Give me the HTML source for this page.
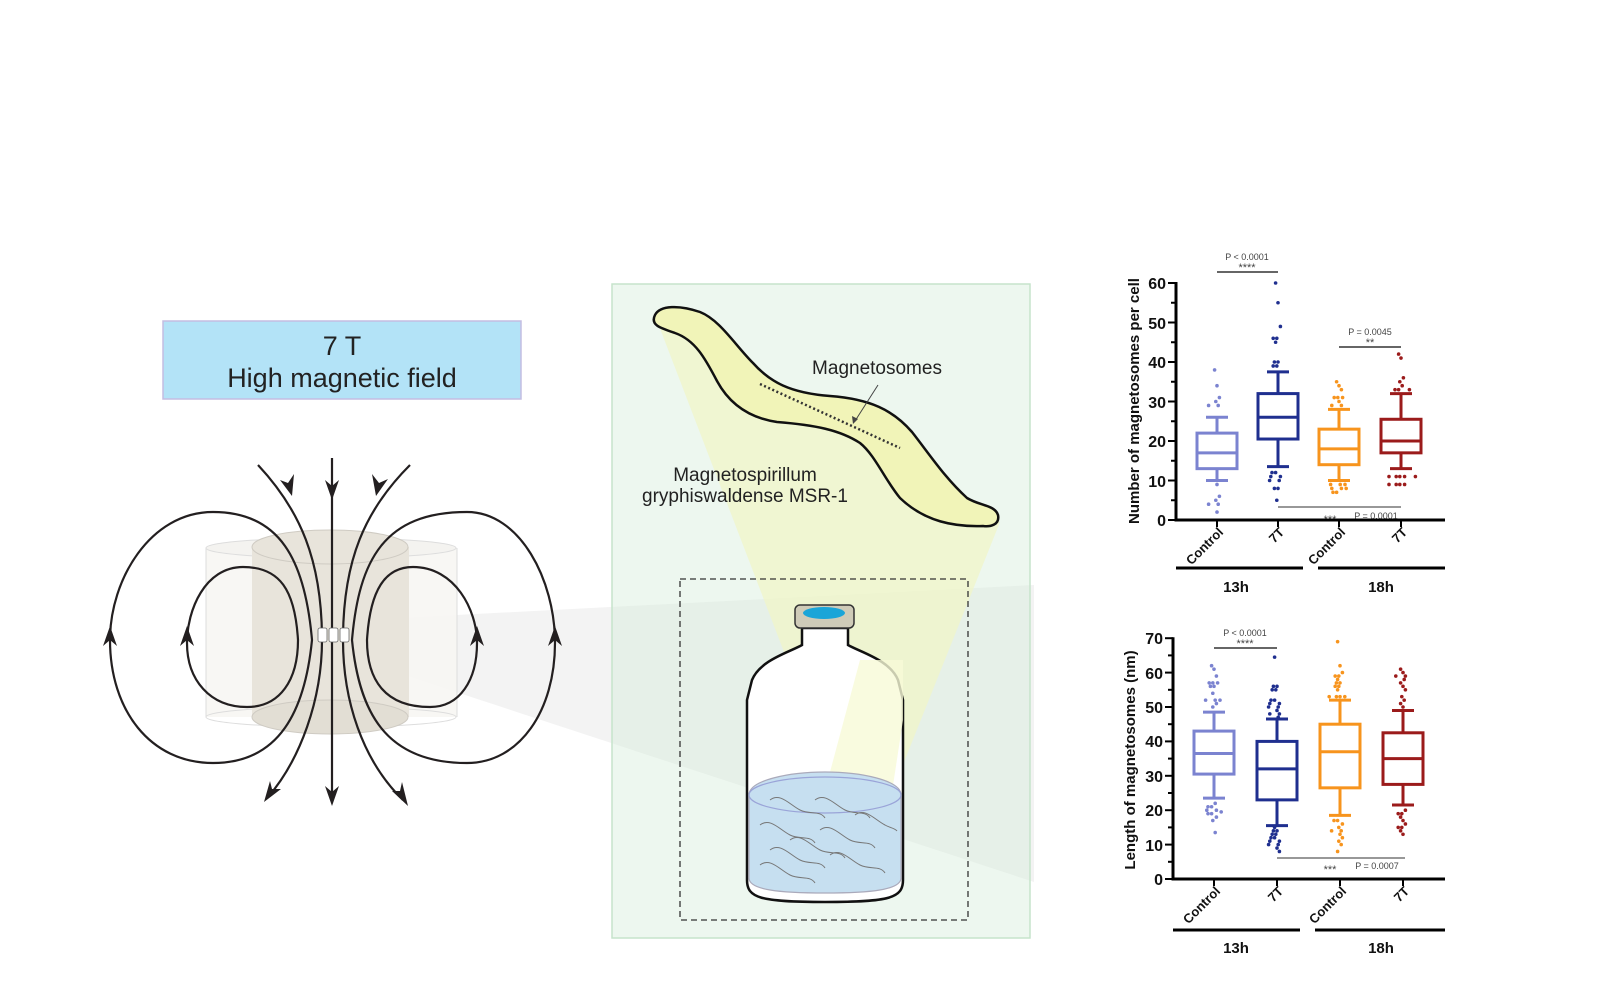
<!DOCTYPE html>
<html><head><meta charset="utf-8"><style>
html,body{margin:0;padding:0;background:#fff;}
svg{display:block;}
text{font-family:"Liberation Sans",Arial,sans-serif;}
</style></head><body>
<svg id="s" width="1600" height="1000" viewBox="0 0 1600 1000" xmlns="http://www.w3.org/2000/svg">
<rect width="1600" height="1000" fill="#fff"/>
<polygon points="360,620 1034,585 1034,882 380,667" fill="#f3f3f3"/>
<rect x="612" y="284" width="418" height="654" fill="rgba(214,238,220,0.45)" stroke="#c6e4cb" stroke-width="1.5"/>
<polygon points="656,318 1000,522 892,792 830,772" fill="rgba(240,246,200,0.75)"/>
<path d="M655,315 C660,305 680,305 700,312 C720,320 735,345 753,363 C770,382 790,393 830,396 C870,399 893,410 912,432 C930,455 945,478 967,498 C980,506 995,505 998,515 C1000,525 990,527 983,526 C955,527 925,522 900,498 C885,480 875,455 860,443 C840,430 815,425 777,422 C750,418 730,405 717,381 C705,358 695,340 675,333 C660,328 650,325 655,315 Z" fill="#f1f4b8" stroke="#111" stroke-width="2.5"/>
<path d="M760,384 L900,448" stroke="#333" stroke-width="2.5" stroke-dasharray="2,2.5"/>
<line x1="878" y1="385" x2="855" y2="421" stroke="#444" stroke-width="1"/>
<polygon points="853,424 852,416 858,419" fill="#444"/>
<text x="877" y="374" font-size="19" text-anchor="middle" fill="#222">Magnetosomes</text>
<text x="745" y="481" font-size="19" text-anchor="middle" fill="#222">Magnetospirillum</text>
<text x="745" y="502" font-size="19" text-anchor="middle" fill="#222">gryphiswaldense MSR-1</text>
<rect x="680" y="579" width="288" height="341" fill="none" stroke="#333" stroke-width="1.3" stroke-dasharray="6,4"/>
<path d="M802,628 L802,645 C790,652 760,660 752,680 L747,700 L747,880 C747,898 760,902 825,902 C890,902 903,898 903,880 L903,700 L898,680 C890,660 860,652 848,645 L848,628 Z" fill="#fff" stroke="#111" stroke-width="2.5"/>
<polygon points="830,772 892,792 903,720 903,660 860,660" fill="rgba(248,250,215,0.8)"/>
<path d="M749,795 C749,780 790,772 825,772 C860,772 901,780 901,795 L901,878 C901,890 870,893 825,893 C780,893 749,890 749,878 Z" fill="#c6dff0" stroke="#aab" stroke-width="1.2"/>
<ellipse cx="825" cy="795" rx="76" ry="18" fill="none" stroke="#9aa4d8" stroke-width="1.2"/>
<g fill="none" stroke="#777" stroke-width="1">
<path d="M770,800 c10,-8 20,5 30,10 c10,5 20,0 25,8"/><path d="M760,825 c10,-8 20,5 30,10 c10,5 20,0 25,8"/>
<path d="M815,800 c10,-8 20,5 30,10 c10,5 20,0 25,8"/><path d="M820,830 c10,-8 20,5 30,10 c10,5 20,0 25,8"/>
<path d="M770,850 c10,-8 20,5 30,10 c10,5 20,0 25,8"/><path d="M830,855 c10,-8 20,5 30,10 c10,5 20,0 25,8"/>
<path d="M790,840 c10,-8 20,5 30,10 c10,5 20,0 25,8"/><path d="M855,815 c10,-8 20,5 30,10 c5,3 10,3 12,6"/>
<path d="M760,865 c10,-8 20,5 30,10 c10,5 20,0 25,8"/>
</g>
<rect x="795" y="605" width="59" height="23" rx="5" fill="#cfcbb8" stroke="#333" stroke-width="1.5"/>
<ellipse cx="824" cy="613" rx="21" ry="6" fill="#1aa5d8"/>
<rect x="163" y="321" width="358" height="78" fill="#b3e3f7" stroke="#c4bde2" stroke-width="1.5"/>
<text x="342" y="355" font-size="27" text-anchor="middle" fill="#222">7 T</text>
<text x="342" y="387" font-size="27" text-anchor="middle" fill="#222">High magnetic field</text>
<rect x="206" y="548" width="251" height="169" fill="#f7f6f3" opacity="0.9"/>
<ellipse cx="331" cy="548" rx="125" ry="10" fill="#f4f3f0" stroke="#ddd"/>
<ellipse cx="331" cy="717" rx="125" ry="10" fill="none" stroke="#ddd"/>
<line x1="206" y1="548" x2="206" y2="717" stroke="#ddd"/><line x1="457" y1="548" x2="457" y2="717" stroke="#ddd"/>
<rect x="252" y="547" width="157" height="170" fill="#e8e4db"/>
<ellipse cx="330" cy="717" rx="78" ry="17" fill="#e2ded4" stroke="#cfcbc3"/>
<ellipse cx="330" cy="547" rx="78" ry="17" fill="#e8e4db" stroke="#cfcbc3"/>
<g fill="none" stroke="#231f20" stroke-width="2.2">
<path d="M332,458 L332,800"/>
<path d="M258,465 C300,510 322,560 322,640 C322,700 300,760 268,797"/>
<path d="M410,465 C365,510 343,560 343,640 C343,700 362,760 403,800"/>
<path d="M312,640 C305,560 280,512 213,512 C150,512 110,580 110,640 C110,710 150,763 213,763 C280,763 305,710 312,640 Z"/>
<path d="M298,640 C295,590 280,567 243,567 C205,567 187,610 187,643 C187,680 210,707 247,707 C280,707 298,680 298,640 Z"/>
<path d="M352,640 C359,560 384,512 467,512 C520,512 555,580 555,643 C555,710 520,763 467,763 C384,763 359,710 352,640 Z"/>
<path d="M367,640 C370,590 385,567 413,567 C455,567 477,610 477,643 C477,680 460,707 430,707 C385,707 367,680 367,640 Z"/>
</g>
<g fill="#231f20">
<polygon points="332,500 325,480 332,486 339,480"/>
<polygon points="292,496 280,480 288,483 294,474"/>
<polygon points="376,496 372,474 379,483 388,479"/>
<polygon points="332,806 325,786 332,792 339,786"/>
<polygon points="264,802 270,781 272,789 281,789"/>
<polygon points="408,806 392,791 400,791 402,782"/>
<polygon points="110,626 103,646 110,640 117,646"/>
<polygon points="187,626 180,646 187,640 194,646"/>
<polygon points="477,626 470,646 477,640 484,646"/>
<polygon points="555,626 548,646 555,640 562,646"/>
</g>
<g stroke="#666" stroke-width="0.8" fill="#fff"><rect x="318" y="628" width="9" height="14" rx="2"/><rect x="329" y="628" width="9" height="14" rx="2"/><rect x="340" y="628" width="9" height="14" rx="2"/></g>

<g font-weight="bold" fill="#111">
<text font-size="16" text-anchor="end" x="1166" y="526">0</text>
<text font-size="16" text-anchor="end" x="1166" y="487">10</text>
<text font-size="16" text-anchor="end" x="1166" y="447">20</text>
<text font-size="16" text-anchor="end" x="1166" y="408">30</text>
<text font-size="16" text-anchor="end" x="1166" y="368">40</text>
<text font-size="16" text-anchor="end" x="1166" y="329">50</text>
<text font-size="16" text-anchor="end" x="1166" y="289">60</text>
<text font-size="15" text-anchor="middle" transform="translate(1139,401) rotate(-90)">Number of magnetosomes per cell</text>
<text font-size="13" text-anchor="end" transform="translate(1224,533) rotate(-45)">Control</text>
<text font-size="13" text-anchor="end" transform="translate(1285,533) rotate(-45)">7T</text>
<text font-size="13" text-anchor="end" transform="translate(1346,533) rotate(-45)">Control</text>
<text font-size="13" text-anchor="end" transform="translate(1408,533) rotate(-45)">7T</text>
<text font-size="15" text-anchor="middle" x="1236" y="592">13h</text>
<text font-size="15" text-anchor="middle" x="1381" y="592">18h</text>
<text font-size="16" text-anchor="end" x="1163" y="885">0</text>
<text font-size="16" text-anchor="end" x="1163" y="851">10</text>
<text font-size="16" text-anchor="end" x="1163" y="816">20</text>
<text font-size="16" text-anchor="end" x="1163" y="782">30</text>
<text font-size="16" text-anchor="end" x="1163" y="747">40</text>
<text font-size="16" text-anchor="end" x="1163" y="713">50</text>
<text font-size="16" text-anchor="end" x="1163" y="679">60</text>
<text font-size="16" text-anchor="end" x="1163" y="644">70</text>
<text font-size="15" text-anchor="middle" transform="translate(1135,760) rotate(-90)">Length of magnetosomes (nm)</text>
<text font-size="13" text-anchor="end" transform="translate(1221,892) rotate(-45)">Control</text>
<text font-size="13" text-anchor="end" transform="translate(1284,892) rotate(-45)">7T</text>
<text font-size="13" text-anchor="end" transform="translate(1347,892) rotate(-45)">Control</text>
<text font-size="13" text-anchor="end" transform="translate(1410,892) rotate(-45)">7T</text>
<text font-size="15" text-anchor="middle" x="1236" y="953">13h</text>
<text font-size="15" text-anchor="middle" x="1381" y="953">18h</text>
</g>
<g fill="#444" font-size="9" text-anchor="middle">
<text x="1247" y="260">P &lt; 0.0001</text><text x="1247" y="271" font-size="11">****</text>
<text x="1370" y="335">P = 0.0045</text><text x="1370" y="346" font-size="11">**</text>
<text x="1330" y="523" font-size="11">***</text><text x="1376" y="519">P = 0.0001</text>
<text x="1245" y="636">P &lt; 0.0001</text><text x="1245" y="647" font-size="11">****</text>
<text x="1330" y="873" font-size="11">***</text><text x="1377" y="869">P = 0.0007</text>
</g>
<g stroke="#333" stroke-width="1.5">
<line x1="1217" y1="272" x2="1278" y2="272"/>
<line x1="1339" y1="347" x2="1401" y2="347"/>
<line x1="1278" y1="507" x2="1401" y2="507" stroke="#777"/>
<line x1="1214" y1="648" x2="1277" y2="648"/>
<line x1="1277" y1="858" x2="1405" y2="858" stroke="#777"/>
</g>
<g stroke="#000" stroke-width="3">
<line x1="1176" y1="568" x2="1303" y2="568"/><line x1="1318" y1="568" x2="1445" y2="568"/>
<line x1="1173" y1="930" x2="1300" y2="930"/><line x1="1315" y1="930" x2="1445" y2="930"/>
</g>
<g id="charts"></g>
</svg>
<script>
(function(){
var g=document.getElementById('charts'),NS='http://www.w3.org/2000/svg';
function el(t,a){var e=document.createElementNS(NS,t);for(var k in a)e.setAttribute(k,a[k]);g.appendChild(e);return e;}
function chart(ax,y0,pp,max,cats,boxes){
 el('line',{x1:ax,y1:y0-max*pp-1,x2:ax,y2:y0+1.5,stroke:'#000','stroke-width':3});
 el('line',{x1:ax-1.5,y1:y0,x2:1445,y2:y0,stroke:'#000','stroke-width':3});
 for(var v=0;v<=max;v+=5){var y=y0-v*pp;el('line',{x1:ax-(v%10?5:8),y1:y,x2:ax,y2:y,stroke:'#000','stroke-width':2});}
 cats.forEach(function(x){el('line',{x1:x,y1:y0,x2:x,y2:y0+7,stroke:'#000','stroke-width':2});});
 boxes.forEach(function(b,i){
  var x=cats[i],c=b.c,Y=function(v){return y0-v*pp;};
  el('line',{x1:x,y1:Y(b.w[0]),x2:x,y2:Y(b.b[0]),stroke:c,'stroke-width':3});
  el('line',{x1:x,y1:Y(b.b[1]),x2:x,y2:Y(b.w[1]),stroke:c,'stroke-width':3});
  el('line',{x1:x-11,y1:Y(b.w[0]),x2:x+11,y2:Y(b.w[0]),stroke:c,'stroke-width':3});
  el('line',{x1:x-11,y1:Y(b.w[1]),x2:x+11,y2:Y(b.w[1]),stroke:c,'stroke-width':3});
  el('rect',{x:x-20,y:Y(b.b[1]),width:40,height:Y(b.b[0])-Y(b.b[1]),fill:'none',stroke:c,'stroke-width':3});
  el('line',{x1:x-20,y1:Y(b.m),x2:x+20,y2:Y(b.m),stroke:c,'stroke-width':3});
  var cnt={};
  b.o.forEach(function(v,j){var k=Math.round(v);cnt[k]=(cnt[k]||0)+1;var n=cnt[k]-1;
   var off=[0,-6,6,-12,12,-18,18][n%7]+((j*7)%5-2)*1.2;
   el('circle',{cx:x+off,cy:Y(v),r:1.8,fill:c});});
 });
}
var C1='#7b83d0',C2='#1f2f8f',C3='#f7941d',C4='#9b1b1b';
chart(1176,520,3.95,60,[1217,1278,1339,1401],[
 {c:C1,w:[10,26],b:[13,22],m:17,o:[38,34,31,30,29,29,9,6,5,4,4,2]},
 {c:C2,w:[13.5,37.5],b:[20.5,32],m:26,o:[60,55,49,46,46,45,40,40,39,39,12,12,11,11,10,10,8,8,5]},
 {c:C3,w:[10,28],b:[14,23],m:18,o:[35,34,33,31,31,31,30,29,29,9,9,9,8,8,8,7,7]},
 {c:C4,w:[13,32],b:[17,25.5],m:20,o:[42,41,36,35,34,33,33,33,11,11,11,11,11,9,9,9,9]}]);
chart(1173,879,3.44,70,[1214,1277,1340,1403],[
 {c:C1,w:[23.5,48.5],b:[30.5,43],m:36.5,o:[62,61,59,57,57,57,56,56,54,52,52,52,51,50,22,21,21,20,20,19.5,19,19,18,17,13.5]},
 {c:C2,w:[15.5,46.5],b:[23,40],m:32,o:[64.5,56,56,55,55,52,52,51,51,50,50,49,48,48,47,15,14,14,13,13,12,12,11,11,10,10,9,8]},
 {c:C3,w:[18.5,52],b:[26.5,45],m:37,o:[69,62,60,59,59,58,57,57,56,56,55,53,53,53,53,17,17,16,15,14,14,13,12,11,10,8]},
 {c:C4,w:[21.5,49],b:[27.5,42.5],m:35,o:[61,60,59,59,58,57,56,55,53,52,51,50,20,19,19,18,17,16,15,15,14,13]}]);
})();
</script>
</body></html>
